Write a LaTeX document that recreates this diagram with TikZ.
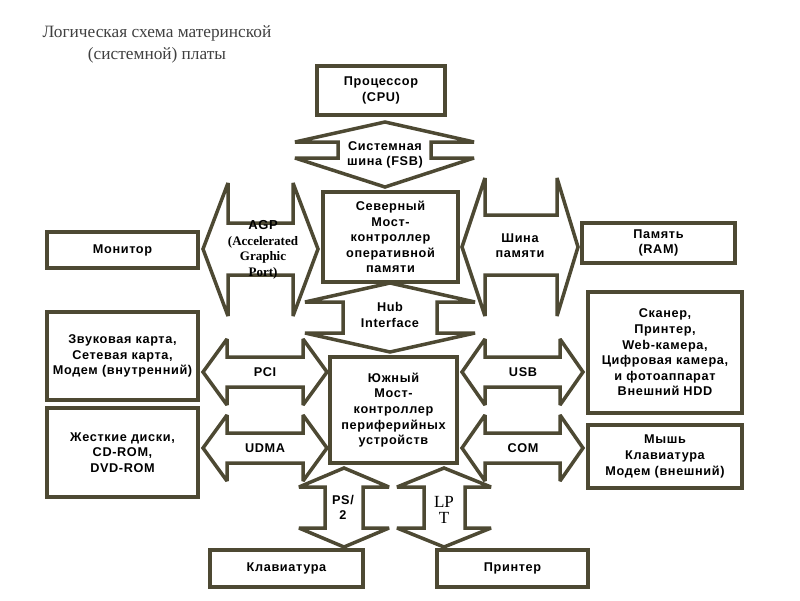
\documentclass[tikz,border=0pt]{standalone}
\usepackage{fontspec}
\setmainfont{Liberation Serif}
\newfontfamily\lab[LetterSpace=5]{Liberation Sans}
\definecolor{olive}{HTML}{4D4933}
\definecolor{titlegray}{HTML}{404040}
\tikzset{
  box/.style={draw=olive, line width=3.5pt, fill=white, inner sep=0pt, align=center,
    font=\lab\bfseries\fontsize{12.7}{15.6}\selectfont},
  arr/.style={draw=olive, line width=3.5pt, fill=white, line join=miter, miter limit=3},
  lbl/.style={inner sep=0pt, align=center, font=\lab\bfseries\fontsize{12.7}{15.6}\selectfont},
}
\begin{document}
\begin{tikzpicture}[x=1pt,y=-1pt]
\useasboundingbox (0,0) rectangle (800,600);
% title
\node[inner sep=0pt, align=center, text=titlegray, font=\fontsize{17.3}{22}\selectfont] (title) at (157,44)
  {Логическая схема материнской\\(системной) платы};
% bus arrows
\draw[arr] (385,122) -- (295,142) -- (338,142) -- (338,158) -- (295,158) -- (385,187)
  -- (474,158) -- (431,158) -- (431,142) -- (474,142) -- cycle;
\draw[arr] (203,249) -- (228,183) -- (228,223) -- (293,223) -- (293,183) -- (318,249)
  -- (293,316) -- (293,275) -- (228,275) -- (228,316) -- cycle;
\draw[arr] (462,247) -- (485,178) -- (485,215) -- (557,215) -- (557,178) -- (578,247)
  -- (557,316) -- (557,275) -- (485,275) -- (485,316) -- cycle;
\draw[arr] (390,283) -- (475,302) -- (437,302) -- (437,333) -- (475,333) -- (390,352)
  -- (305,333) -- (343,333) -- (343,302) -- (305,302) -- cycle;
\draw[arr] (203,372) -- (227,339) -- (227,357) -- (303,357) -- (303,339) -- (327,372)
  -- (303,405) -- (303,387) -- (227,387) -- (227,405) -- cycle;
\draw[arr] (203,448) -- (227,415) -- (227,433) -- (303,433) -- (303,415) -- (327,448)
  -- (303,481) -- (303,463) -- (227,463) -- (227,481) -- cycle;
\draw[arr] (462,372) -- (485,339) -- (485,357) -- (560,357) -- (560,339) -- (583,372)
  -- (560,405) -- (560,387) -- (485,387) -- (485,405) -- cycle;
\draw[arr] (462,448) -- (485,415) -- (485,433) -- (560,433) -- (560,415) -- (583,448)
  -- (560,481) -- (560,463) -- (485,463) -- (485,481) -- cycle;
\draw[arr] (344,468) -- (389,487) -- (363,487) -- (363,528) -- (389,528) -- (344,547)
  -- (299,528) -- (325,528) -- (325,487) -- (299,487) -- cycle;
\draw[arr] (444,468) -- (491,487) -- (465,487) -- (465,528) -- (491,528) -- (444,547)
  -- (397,528) -- (424,528) -- (424,487) -- (397,487) -- cycle;
% boxes
\node[box, minimum width=128, minimum height=49] (cpu) at (381,90.5) {Процессор\\(CPU)};
\node[box, minimum width=135, minimum height=90] (nb) at (390.5,237)
  {Северный\\Мост-\\контроллер\\оперативной\\памяти};
\node[box, minimum width=151, minimum height=36] (mon) at (122.5,250) {Монитор};
\node[box, minimum width=153, minimum height=40] (ram) at (658.5,243) {Память\\(RAM)};
\node[box, minimum width=127, minimum height=106] (sb) at (393.5,410)
  {Южный\\Мост-\\контроллер\\периферийных\\устройств};
\node[box, minimum width=151, minimum height=88] (snd) at (122.5,356)
  {Звуковая карта,\\Сетевая карта,\\Модем (внутренний)};
\node[box, minimum width=151, minimum height=89] (hdd) at (122.5,452.5)
  {Жесткие диски,\\CD-ROM,\\DVD-ROM};
\node[box, minimum width=154, minimum height=121] (scan) at (665,352.5)
  {Сканер,\\Принтер,\\Web-камера,\\Цифровая камера,\\и фотоаппарат\\Внешний HDD};
\node[box, minimum width=154, minimum height=63] (mouse) at (665,456.5)
  {Мышь\\Клавиатура\\Модем (внешний)};
\node[box, minimum width=153, minimum height=37] (kbd) at (286.5,568.5) {Клавиатура};
\node[box, minimum width=151, minimum height=37] (prn) at (512.5,568.5) {Принтер};
% bus labels
\node[lbl] (fsb) at (385,155) {Системная\\шина (FSB)};
\node[inner sep=0pt, align=center, font=\bfseries\fontsize{13}{15.5}\selectfont] (agp) at (263,250)
  {{\lab AGP}\\(Accelerated\\Graphic\\Port)};
\node[lbl] (membus) at (520,245.5) {Шина\\памяти};
\node[lbl] (hub) at (390,315) {Hub\\Interface};
\node[lbl] (pci) at (265,372.5) {PCI};
\node[lbl] (udma) at (265,448.5) {UDMA};
\node[lbl] (usb) at (523,372.5) {USB};
\node[lbl] (com) at (523,448.5) {COM};
\node[lbl] (ps2) at (343,507.5) {PS/\\2};
\node[inner sep=0pt, align=center, font=\fontsize{17}{15.5}\selectfont] (lpt) at (444,510) {LP\\T};
\end{tikzpicture}
\end{document}
